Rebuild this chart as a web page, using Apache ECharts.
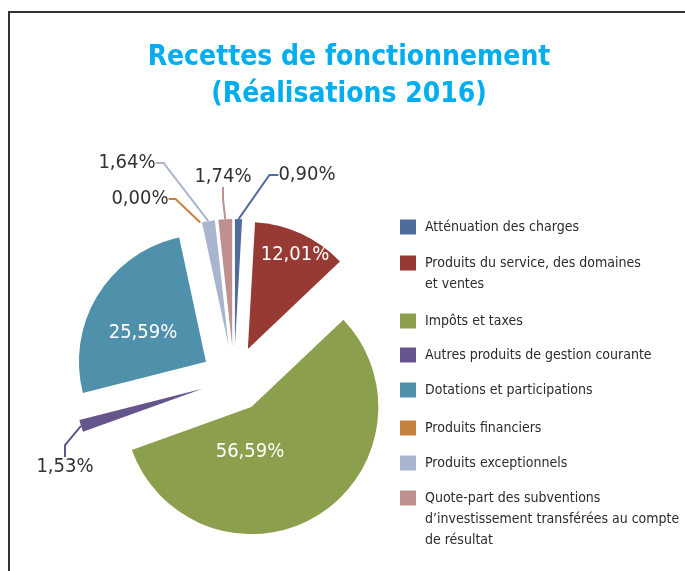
<!DOCTYPE html>
<html>
<head>
<meta charset="utf-8">
<script src="https://cdn.jsdelivr.net/npm/echarts@6/dist/echarts.min.js"></script>
<style>
  html, body { margin: 0; padding: 0; background: #fff; }
  #chart { width: 685px; height: 571px; }
</style>
</head>
<body>
<div id="chart"></div>
<script>
const FONT = "'DejaVu Sans Condensed', 'Liberation Sans', sans-serif"

const categories = [
  'Atténuation des charges',
  'Produits du service, des domaines et ventes',
  'Impôts et taxes',
  'Autres produits de gestion courante',
  'Dotations et participations',
  'Produits financiers',
  'Produits exceptionnels',
  'Quote-part des subventions d’investissement transférées au compte de résultat'
]
const shares = [0.90, 12.01, 56.59, 1.53, 25.59, 0.00, 1.64, 1.74]
const legendLabels = [
  'Atténuation des charges',
  'Produits du service, des domaines\net ventes',
  'Impôts et taxes',
  'Autres produits de gestion courante',
  'Dotations et participations',
  'Produits financiers',
  'Produits exceptionnels',
  'Quote-part des subventions\nd’investissement transférées au compte\nde résultat'
]

const colors = ['#4f6d9b', '#973a34', '#8c9f4c', '#65558c', '#4f91ab', '#c5813f', '#a9b5cf', '#bf9090']
const insideLabel = [false, true, true, false, true, false, false, false]
// label centres (px), tuned by eye
const labelAt = [[307, 175], [295, 255], [250, 452], [65, 467], [143, 333], [140, 199], [127, 163], [223, 177]]
const lineLen2 = [9, 0, 0, 12, 0, 7, 8, 12]
const legendY = [227, 263, 321, 355, 390, 428, 463, 498]

const pieCenter = [234, 379]
const pieRadius = 127
const explode = 33

const fmt = (v) => v.toFixed(2).replace('.', ',') + '%'

// each slice is pulled out along its own mid angle
const total = shares.reduce((a, b) => a + b, 0)
let acc = 0
const sliceCenters = shares.map((v) => {
  const mid = acc + v / 2
  acc += v
  const a = (90 - 360 * mid / total) * Math.PI / 180
  return [pieCenter[0] + explode * Math.cos(a), pieCenter[1] - explode * Math.sin(a)]
})

const chart = echarts.init(document.getElementById('chart'))

const legends = categories.map((name, i) => {
  const lines = legendLabels[i].split('\n').length
  return {
    orient: 'vertical',
    left: 400,
    top: legendY[i] - (2 * lines - 1) * 10.5,
    padding: 0,
    itemWidth: 16,
    itemHeight: 15,
    icon: 'rect',
    selectedMode: false,
    data: [name],
    itemStyle: { color: colors[i] },
    formatter: () => '\n'.repeat(lines - 1) + legendLabels[i],
    textStyle: { fontFamily: FONT, fontSize: 14, lineHeight: 21, color: '#2b2b2b', padding: [0, 0, 0, 4] }
  }
})

const series = categories.map((_, i) => ({
  type: 'pie',
  center: sliceCenters[i],
  radius: pieRadius,
  startAngle: 90,
  clockwise: true,
  avoidLabelOverlap: false,
  silent: true,
  emphasis: { disabled: true },
  label: {
    fontFamily: FONT,
    fontSize: 20,
    formatter: (p) => fmt(p.value)
  },
  data: categories.map((name, j) => ({
    name,
    value: shares[j],
    itemStyle: { color: j === i ? colors[j] : 'rgba(0,0,0,0)' },
    label: j === i
      ? (insideLabel[j] ? { show: true, position: 'inside', color: '#fff' } : { show: true, position: 'outside', color: '#333' })
      : { show: false },
    labelLine: { show: j === i && !insideLabel[j], length: 12, length2: lineLen2[j], lineStyle: { width: 2 } }
  })),
  labelLayout: (p) => p.dataIndex === i
    ? { x: labelAt[i][0], y: labelAt[i][1], align: 'center', verticalAlign: 'middle' }
    : {}
}))

chart.setOption({
  animation: false,
  title: {
    text: 'Recettes de fonctionnement\n(Réalisations 2016)',
    left: 349,
    textAlign: 'center',
    top: 39,
    padding: 0,
    textStyle: { fontFamily: FONT, fontWeight: 'bold', fontSize: 28, lineHeight: 37, color: '#00aeef' }
  },
  legend: legends,
  graphic: [{
    type: 'rect',
    shape: { x: 9, y: 12, width: 700, height: 600 },
    style: { fill: 'none', stroke: '#333', lineWidth: 2 },
    silent: true
  }],
  series
})

window.addEventListener('resize', () => chart.resize())
</script>
</body>
</html>
